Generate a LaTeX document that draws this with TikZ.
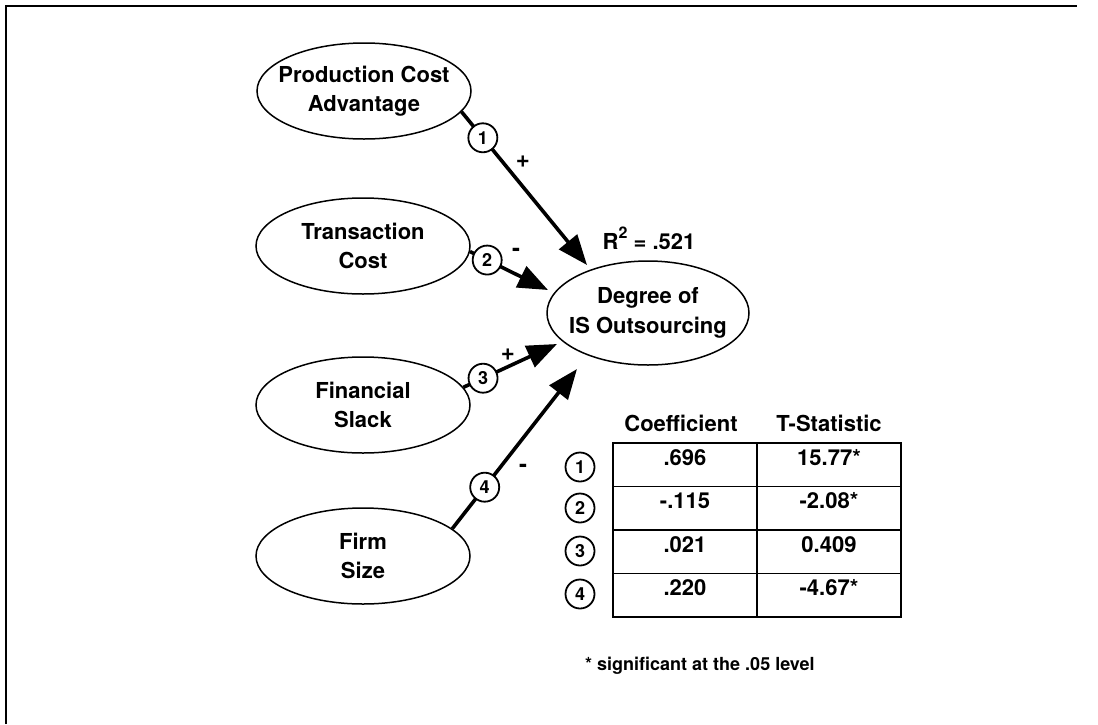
\documentclass[tikz,border=0pt]{standalone}
\usepackage{fontspec}
\setmainfont{TeX Gyre Heros}
\usetikzlibrary{shapes.geometric,arrows.meta}
\begin{document}
\begin{tikzpicture}[x=1pt,y=-1pt,
 ellip/.style={ellipse, draw, line width=1.5pt, minimum width=214pt, minimum height=96pt, inner sep=0pt},
 lbl/.style={align=center, font=\fontsize{22}{29.5}\selectfont\bfseries},
 num/.style={circle, draw, fill=white, line width=1.8pt, minimum size=29pt, inner sep=0pt, font=\fontsize{18}{18}\selectfont\bfseries},
 sgn/.style={font=\fontsize{24}{24}\selectfont\bfseries, inner sep=0pt},
 conn/.style={line width=3.6pt, -{Triangle[length=30pt,width=23pt]}},
 cell/.style={draw, line width=1.8pt, minimum width=144pt, minimum height=43.5pt, inner sep=0pt},
 val/.style={font=\fontsize{22}{22}\selectfont\bfseries, anchor=base, inner sep=0pt},
 foot/.style={font=\fontsize{18}{18}\selectfont\bfseries, anchor=base west, inner sep=0pt}]
\useasboundingbox (0,0) rectangle (1098,724);
\draw[line width=2pt] (6,724) -- (6,6) -- (1077,6);
% source ellipses
\node[ellip] (pca) at (364,91) {};
\node[lbl] (pcal) at (pca) {Production Cost\\Advantage};
\node[ellip] (tc) at (363,246) {};
\node[lbl] (tcl) at (tc) {Transaction\\Cost};
\node[ellip] (fs) at (363,405) {};
\node[lbl] (fsl) at (fs) {Financial\\Slack};
\node[ellip] (fz) at (363,556) {};
\node[lbl] (fzl) at (fz) {Firm\\Size};
% target
\node[ellip, minimum width=202pt, minimum height=104pt] (dio) at (648,313) {};
\node[lbl] (diol) at (dio) {Degree of\\IS Outsourcing};
\node[lbl, anchor=base] (r2) at (649,249) {R\raisebox{0.5em}{\fontsize{16}{16}\selectfont 2} = .521};
% arrow ends
\coordinate (t1) at (587,265);
\coordinate (t2) at (548,290);
\coordinate (t3) at (557,344);
\coordinate (t4) at (577,369);
\draw[conn] (pca.-12) -- node[num,pos=0.17] (n1) {1} (t1);
\draw[conn] (tc.-3) -- node[num,pos=0.22] (n2) {2} (t2);
\draw[conn] (fs.10) -- node[num,pos=0.21] (n3) {3} (t3);
\draw[conn] (fz.17) -- node[num,pos=0.26] (n4) {4} (t4);
\node[sgn] (s1) at (523,162) {+};
\node[sgn] (s2) at (516,252) {-};
\node[sgn] (s3) at (508,355) {+};
\node[sgn] (s4) at (523,468) {-};
% table
\node[val] (h1) at (681,431) {Coefficient};
\node[val] (h2) at (829,431) {T-Statistic};
\node[cell] (c11) at (685,464.75) {};
\node[cell] (c12) at (829,464.75) {};
\node[cell] (c21) at (685,508.25) {};
\node[cell] (c22) at (829,508.25) {};
\node[cell] (c31) at (685,551.75) {};
\node[cell] (c32) at (829,551.75) {};
\node[cell] (c41) at (685,595.25) {};
\node[cell] (c42) at (829,595.25) {};
\node[val] (v11) at (685,465) {.696};
\node[val] (v12) at (829,465) {15.77*};
\node[val] (v21) at (685,508.5) {-.115};
\node[val] (v22) at (829,508.5) {-2.08*};
\node[val] (v31) at (685,552) {.021};
\node[val] (v32) at (829,552) {0.409};
\node[val] (v41) at (685,595.5) {.220};
\node[val] (v42) at (829,595.5) {-4.67*};
\node[num] (k1) at (580,467) {1};
\node[num] (k2) at (580,508) {2};
\node[num] (k3) at (580,551) {3};
\node[num] (k4) at (580,594) {4};
\node[foot] (fn) at (585,670) {* significant at the .05 level};
\end{tikzpicture}
\end{document}
